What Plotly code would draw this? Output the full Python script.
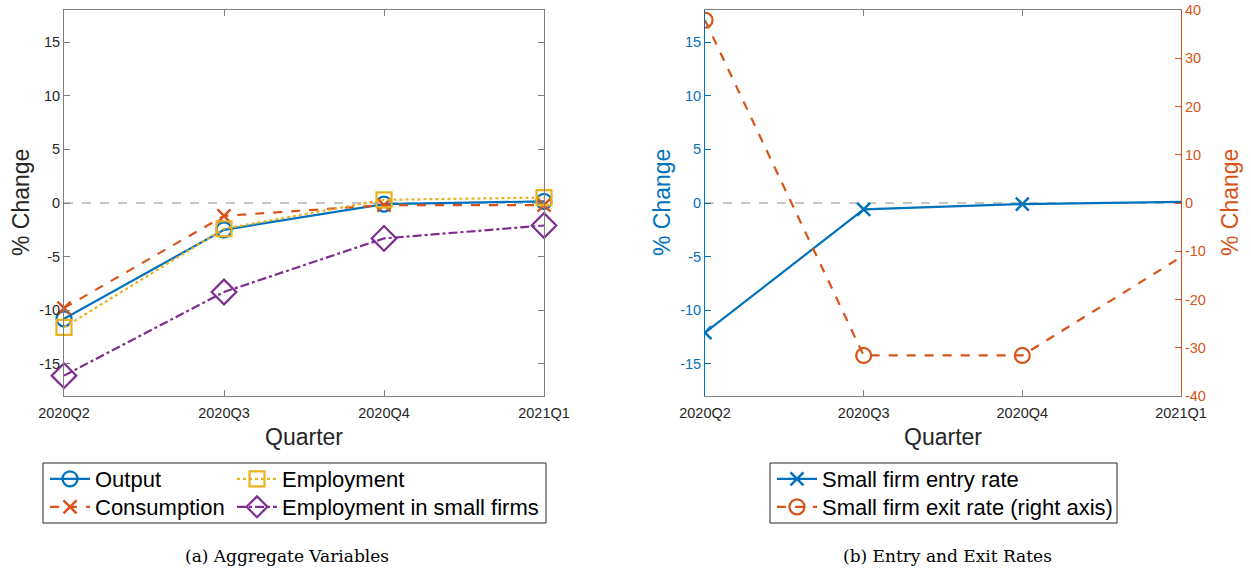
import plotly.graph_objects as go

# Quarters on the horizontal axis
quarters = ["2020Q2", "2020Q3", "2020Q4", "2021Q1"]

# Panel (a): aggregate variables, % change
output = [-10.8, -2.5, -0.1, 0.15]
consumption = [-9.8, -1.2, -0.2, -0.2]
employment = [-11.6, -2.4, 0.3, 0.5]
employment_small = [-16.1, -8.3, -3.3, -2.1]

# Panel (b): small firm entry (left axis) and exit (right axis) rates, % change
entry_rate = [-12.1, -0.6, -0.1, 0.1]
exit_rate = [37.9, -31.6, -31.6, -11.2]

left_ticks = [-15, -10, -5, 0, 5, 10, 15]
right_ticks = [-40, -30, -20, -10, 0, 10, 20, 30, 40]

BLUE = "#0072BD"
ORANGE = "#D95319"
YELLOW = "#EDB120"
PURPLE = "#7E2F8E"
INK = "#262626"
FRAME = "#808080"
CLEAR = "rgba(0,0,0,0)"
FONT = "Liberation Sans, Arial, sans-serif"

W, H = 1251, 571


def px_x(p):
    return p / W


def px_y(p):
    return 1 - p / H


fig = go.Figure()

# ---- panel (a)
fig.add_trace(go.Scatter(x=quarters, y=output, name="Output", mode="lines+markers",
                         line=dict(color=BLUE, width=2.2),
                         marker=dict(symbol="circle-open", size=15, color=BLUE, line=dict(width=2.2)),
                         xaxis="x", yaxis="y", legend="legend", cliponaxis=False))
fig.add_trace(go.Scatter(x=quarters, y=consumption, name="Consumption", mode="lines+markers",
                         line=dict(color=ORANGE, width=2.2, dash="dash"),
                         marker=dict(symbol="x-thin-open", size=13, color=ORANGE, line=dict(width=2.5, color=ORANGE)),
                         xaxis="x", yaxis="y", legend="legend2", cliponaxis=False))
fig.add_trace(go.Scatter(x=quarters, y=employment, name="Employment", mode="lines+markers",
                         line=dict(color=YELLOW, width=2.2, dash="dot"),
                         marker=dict(symbol="square-open", size=15, color=YELLOW, line=dict(width=2.2)),
                         xaxis="x", yaxis="y", legend="legend3", cliponaxis=False))
fig.add_trace(go.Scatter(x=quarters, y=employment_small, name="Employment in small firms", mode="lines+markers",
                         line=dict(color=PURPLE, width=2.2, dash="dashdot"),
                         marker=dict(symbol="diamond-open", size=19, color=PURPLE, line=dict(width=2.2)),
                         xaxis="x", yaxis="y", legend="legend4", cliponaxis=False))

# ---- panel (b): no marker drawn at the last quarter
fig.add_trace(go.Scatter(x=quarters, y=entry_rate, name="Small firm entry rate", mode="lines+markers",
                         line=dict(color=BLUE, width=2.2),
                         marker=dict(symbol="x-thin-open", size=13, color=[BLUE, BLUE, BLUE, CLEAR],
                                     line=dict(width=2.5)),
                         xaxis="x2", yaxis="y2", legend="legend5", cliponaxis=True))
fig.add_trace(go.Scatter(x=quarters, y=exit_rate, name="Small firm exit rate (right axis)", mode="lines+markers",
                         line=dict(color=ORANGE, width=2.2, dash="dash"),
                         marker=dict(symbol="circle-open", size=15, color=[ORANGE, ORANGE, ORANGE, CLEAR],
                                     line=dict(width=2.2)),
                         xaxis="x2", yaxis="y3", legend="legend6", cliponaxis=True))

dom_a = [px_x(64), px_x(544)]
dom_b = [px_x(705), px_x(1181)]
dom_y = [px_y(396), px_y(10)]

tickfont = dict(family=FONT, size=14.5, color=INK)

xaxis_common = dict(type="category", range=[0, 3], showgrid=False, zeroline=False, automargin=False,
                    showline=True, linecolor=FRAME, linewidth=1, mirror="ticks",
                    ticks="inside", ticklen=6, tickcolor=FRAME, tickfont=tickfont,
                    ticklabelstandoff=4)

legend_common = dict(xanchor="left", yanchor="middle", bgcolor=CLEAR, borderwidth=0,
                     font=dict(family=FONT, size=22, color="black"), tracegroupgap=0, itemwidth=40)

# one legend box per entry so each row sits on its own line of the framed key
legend_slots = {
    "legend": (45, 479), "legend2": (45, 507),
    "legend3": (232, 479), "legend4": (232, 507),
    "legend5": (772, 479), "legend6": (772, 507),
}
legend_layout = {name: dict(x=px_x(xp), y=px_y(yp), **legend_common)
                 for name, (xp, yp) in legend_slots.items()}

fig.update_layout(
    width=W, height=H,
    margin=dict(l=0, r=0, t=0, b=0, autoexpand=False),
    paper_bgcolor="white", plot_bgcolor="white",
    showlegend=True,
    xaxis=dict(domain=dom_a, anchor="y", **xaxis_common),
    yaxis=dict(domain=dom_y, anchor="x", range=[-18, 18], tickvals=left_ticks,
               ticktext=[str(v) for v in left_ticks], automargin=False,
               showgrid=False, zeroline=False, showline=True, linecolor=FRAME, linewidth=1,
               mirror="ticks", ticks="inside", ticklen=6, tickcolor=FRAME, tickfont=tickfont),
    xaxis2=dict(domain=dom_b, anchor="y2", **xaxis_common),
    yaxis2=dict(domain=dom_y, anchor="x2", range=[-18, 18], tickvals=left_ticks,
                ticktext=[str(v) for v in left_ticks], automargin=False,
                showgrid=False, zeroline=False, showline=True, linecolor=BLUE, linewidth=1,
                ticks="inside", ticklen=6, tickcolor=BLUE,
                tickfont=dict(family=FONT, size=14.5, color=BLUE)),
    yaxis3=dict(overlaying="y2", anchor="x2", side="right", range=[-40, 40], tickvals=right_ticks,
                ticktext=[str(v) for v in right_ticks], automargin=False,
                showgrid=False, zeroline=False, showline=True, linecolor=ORANGE, linewidth=1,
                ticks="inside", ticklen=6, tickcolor=ORANGE,
                tickfont=dict(family=FONT, size=14.5, color=ORANGE)),
    **legend_layout,
)

# Zero reference lines
for xr, yr in (("x domain", "y"), ("x2 domain", "y2")):
    fig.add_shape(type="line", xref=xr, yref=yr, x0=0, x1=1, y0=0, y1=0,
                  line=dict(color="#8c8c8c", width=1, dash="dash"), layer="below")

# Legend frames
for x0, x1 in ((43, 546), (770, 1117)):
    fig.add_shape(type="rect", xref="paper", yref="paper",
                  x0=px_x(x0), x1=px_x(x1), y0=px_y(523), y1=px_y(463),
                  line=dict(color=INK, width=1), fillcolor=CLEAR)

# Axis titles
axis_titles = [
    (21, 203, "% Change", INK, -90),
    (662, 203, "% Change", BLUE, -90),
    (1230, 203, "% Change", ORANGE, -90),
    (304, 437, "Quarter", INK, 0),
    (943, 437, "Quarter", INK, 0),
]
for xc, yc, text, color, angle in axis_titles:
    fig.add_annotation(xref="paper", yref="paper", x=px_x(xc), y=px_y(yc), text=text,
                       showarrow=False, xanchor="center", yanchor="middle", textangle=angle,
                       font=dict(family=FONT, size=23, color=color))

# Panel captions
for xc, text in ((287, "(a) Aggregate Variables"), (948, "(b) Entry and Exit Rates")):
    fig.add_annotation(xref="paper", yref="paper", x=px_x(xc), y=px_y(556), text=text,
                       showarrow=False, xanchor="center", yanchor="middle",
                       font=dict(family="DejaVu Serif, serif", size=17, color="black"))

fig.write_html("out.html")
